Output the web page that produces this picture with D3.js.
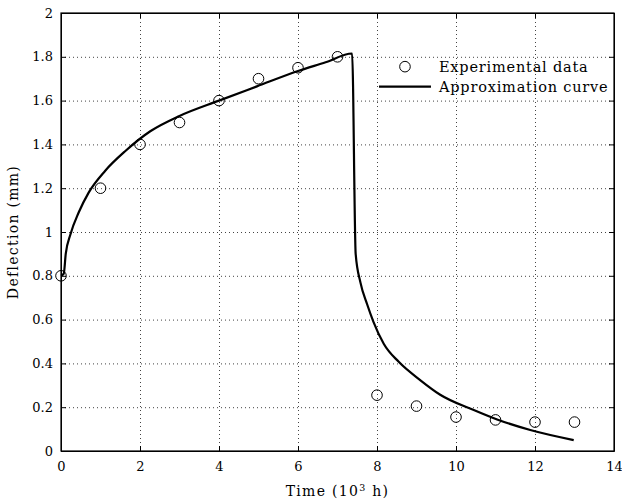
<!DOCTYPE html>
<html>
<head>
    <script src="https://cdn.jsdelivr.net/npm/d3@7"></script>
    <style>
        body { margin: 0; background: #fff; }
        text { font-family: "DejaVu Serif", serif; fill: #000; }
    </style>
</head>
<body>
    <svg width="622" height="502" id="mainsvg"></svg>
    <script>
        // experimental points
        const expTime = [0, 1, 2, 3, 4, 5, 6, 7, 8, 9, 10, 11, 12, 13];
        const expDeflection = [0.8, 1.2, 1.4, 1.5, 1.6, 1.7, 1.75, 1.8, 0.255, 0.205, 0.155, 0.142, 0.132, 0.132];

        // approximation curve
        const curveTime = [0, 0.07, 0.12, 0.24, 0.45, 0.7, 1.12, 1.63, 2.26, 3.0, 4.0, 4.96, 6.0, 6.7, 7.37,
            7.46, 7.58, 7.75, 7.91, 8.17, 8.55, 9.1, 9.6, 10.45, 11.04, 11.88, 12.98];
        const curveDeflection = [0.8, 0.81, 0.9, 0.99, 1.09, 1.18, 1.28, 1.37, 1.46, 1.53, 1.6, 1.665, 1.735, 1.775, 1.815,
            0.9, 0.77, 0.67, 0.59, 0.49, 0.407, 0.323, 0.257, 0.187, 0.144, 0.096, 0.05];

        const xTicks = [0, 2, 4, 6, 8, 10, 12, 14];
        const yTicks = [0, 0.2, 0.4, 0.6, 0.8, 1, 1.2, 1.4, 1.6, 1.8, 2];
        const yTickLabels = ['0', '0.2', '0.4', '0.6', '0.8', '1', '1.2', '1.4', '1.6', '1.8', '2'];
        const legendLabels = ['Experimental data', 'Approximation curve'];

        const svg = d3.select('#mainsvg');
        const width = +svg.attr('width');
        const height = +svg.attr('height');
        const margin = { top: 13, right: 8, bottom: 51, left: 61 };
        const innerWidth = width - margin.left - margin.right;
        const innerHeight = height - margin.top - margin.bottom;

        svg.append('rect').attr('width', width).attr('height', height).attr('fill', '#fff');

        const g = svg.append('g').attr('transform', `translate(${margin.left}, ${margin.top})`);

        const xScale = d3.scaleLinear().domain([0, 14]).range([0, innerWidth]);
        const yScale = d3.scaleLinear().domain([0, 2]).range([innerHeight, 0]);

        // dotted grid
        g.append('g').attr('class', 'grid')
            .attr('transform', `translate(0, ${innerHeight})`)
            .call(d3.axisBottom(xScale).tickValues(xTicks.slice(1, -1)).tickSize(-innerHeight).tickFormat(''));
        g.append('g').attr('class', 'grid')
            .call(d3.axisLeft(yScale).tickValues(yTicks.slice(1, -1)).tickSize(-innerWidth).tickFormat(''));
        g.selectAll('.grid .domain').remove();
        g.selectAll('.grid text').remove();
        g.selectAll('.grid line')
            .attr('stroke', '#444')
            .attr('stroke-width', 1)
            .attr('stroke-dasharray', '1,3');

        // axes with inward ticks
        const xAxis = d3.axisBottom(xScale).tickValues(xTicks).tickSize(-5).tickSizeOuter(0).tickPadding(11);
        const yAxis = d3.axisLeft(yScale).tickValues(yTicks).tickSize(-5).tickSizeOuter(0).tickPadding(8)
            .tickFormat((d, i) => yTickLabels[i]);

        g.append('g').attr('class', 'axis').attr('transform', `translate(0, ${innerHeight})`).call(xAxis);
        g.append('g').attr('class', 'axis').call(yAxis);
        g.append('g').attr('class', 'mirror')
            .call(d3.axisTop(xScale).tickValues(xTicks).tickSize(-5).tickSizeOuter(0).tickFormat(''));
        g.append('g').attr('class', 'mirror').attr('transform', `translate(${innerWidth}, 0)`)
            .call(d3.axisRight(yScale).tickValues(yTicks).tickSize(-5).tickSizeOuter(0).tickFormat(''));
        g.selectAll('.mirror text').remove();

        g.selectAll('.axis .tick text').attr('font-size', '13px').attr('font-family', '"DejaVu Serif", serif');
        g.selectAll('.axis .tick line, .mirror .tick line').attr('stroke', '#000');

        // box
        g.append('rect')
            .attr('width', innerWidth).attr('height', innerHeight)
            .attr('fill', 'none').attr('stroke', '#000').attr('stroke-width', 1.2);

        // curve
        const line = d3.line().curve(d3.curveMonotoneX).x(d => xScale(d[0])).y(d => yScale(d[1]));
        g.append('path')
            .datum(curveTime.map((t, i) => [t, curveDeflection[i]]))
            .attr('d', line)
            .attr('fill', 'none')
            .attr('stroke', '#000')
            .attr('stroke-width', 2.2)
            .attr('stroke-linejoin', 'round');

        // points
        expTime.forEach((t, i) => {
            g.append('circle')
                .attr('cx', xScale(t))
                .attr('cy', yScale(expDeflection[i]))
                .attr('r', 5.3)
                .attr('fill', 'none')
                .attr('stroke', '#000')
                .attr('stroke-width', 1);
        });

        // legend
        const legend = g.append('g').attr('transform', `translate(${xScale(8.05)}, ${yScale(1.755)})`);
        legend.append('circle').attr('cx', 26).attr('cy', 0).attr('r', 5.3)
            .attr('fill', 'none').attr('stroke', '#000');
        legend.append('line').attr('x1', 0).attr('x2', 52).attr('y1', 20).attr('y2', 20)
            .attr('stroke', '#000').attr('stroke-width', 2.2);
        legendLabels.forEach((s, i) => {
            legend.append('text').text(s)
                .attr('x', 60).attr('y', 5 + i * 20)
                .attr('font-size', '14.5px')
                .attr('letter-spacing', '0.8px');
        });

        // axis titles
        const xLabel = svg.append('text')
            .attr('x', margin.left + innerWidth / 2).attr('y', 496)
            .attr('text-anchor', 'middle').attr('font-size', '14px')
            .attr('letter-spacing', '1.3px');
        xLabel.append('tspan').text('Time (10');
        xLabel.append('tspan').text('3').attr('font-size', '9.5px').attr('dy', -5);
        xLabel.append('tspan').text(' h)').attr('dy', 5);

        svg.append('text').text('Deflection (mm)')
            .attr('transform', `translate(18, ${margin.top + innerHeight / 2}) rotate(-90)`)
            .attr('text-anchor', 'middle').attr('font-size', '14px')
            .attr('letter-spacing', '1.3px');
    </script>
</body>
</html>
